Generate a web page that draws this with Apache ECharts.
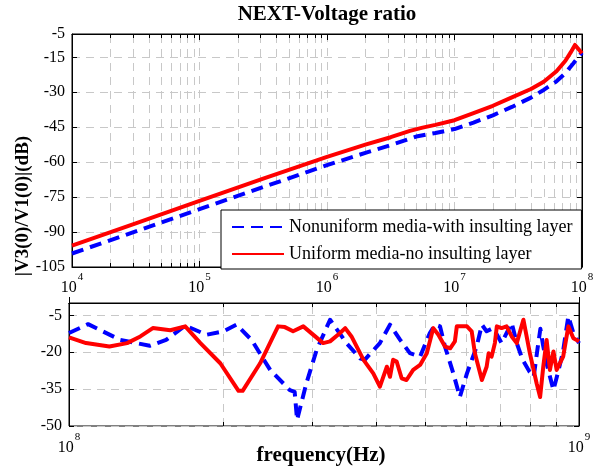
<!DOCTYPE html>
<html><head><meta charset="utf-8">
<script src="https://cdn.jsdelivr.net/npm/echarts@6/dist/echarts.min.js"></script>
<style>html,body{margin:0;padding:0;background:#fff}#c{width:603px;height:470px}</style>
</head><body><div id="c"></div>
<script>
const FONT = '"Liberation Serif","Times New Roman",serif';
const titleText = 'NEXT-Voltage ratio';
const yLabelText = '|V3(0)/V1(0)|(dB)';
const xLabelText = 'frequency(Hz)';
const seriesNames = ['Nonuniform media-with insulting layer', 'Uniform media-no insulting layer'];

// axis ranges / tick steps
const topY = { min: -105, max: -5, interval: 15 };
const botY = { min: -50, max: 0, interval: 15 };
const topX = { min: 1e4, max: 1e8 };
const botX = { min: 1e8, max: 1e9 };

// ---- top panel data ----
const topBlueFreq = [1e4, 3.16e4, 1e5, 3.16e5, 1e6, 2e6, 3.16e6, 5.01e6, 7.08e6, 1e7, 1.41e7, 2e7, 2.82e7, 3.98e7, 5.01e7, 6.31e7, 7.41e7, 8.51e7, 9.33e7, 1e8];
const topBlueVal  = [-99.2, -89.7, -80.2, -70.7, -61.3, -56.0, -52.7, -49.0, -47.5, -45.8, -43.0, -39.9, -36.3, -32.3, -29.0, -25.3, -21.8, -17.8, -15.0, -13.0];
const topRedFreq  = [1e4, 3.16e4, 1e5, 3.16e5, 1e6, 2e6, 3.16e6, 4.47e6, 5.62e6, 7.08e6, 1e7, 1.41e7, 2e7, 2.82e7, 3.98e7, 5.01e7, 6.31e7, 7.41e7, 8.13e7, 8.81e7, 1e8];
const topRedVal   = [-95.8, -86.3, -76.6, -67.1, -57.7, -52.5, -49.3, -46.6, -45.2, -44.0, -42.0, -39.0, -35.8, -32.2, -28.6, -25.5, -21.0, -16.5, -13.0, -9.7, -13.3];

// ---- bottom panel data ----
const botBlueFreq = [1.0e8, 1.09e8, 1.26e8, 1.44e8, 1.55e8, 1.69e8, 1.86e8, 2.01e8, 2.13e8, 2.28e8, 2.48e8, 2.71e8, 2.77e8, 2.80e8, 2.92e8, 3.06e8, 3.25e8, 3.5e8, 3.72e8, 3.8e8, 4.07e8, 4.26e8, 4.46e8, 4.66e8, 4.88e8, 5.1e8, 5.22e8, 5.34e8, 5.46e8, 5.67e8, 5.84e8, 6.03e8, 6.3e8, 6.45e8, 6.59e8, 6.79e8, 7.05e8, 7.38e8, 7.55e8, 7.75e8, 8.0e8, 8.15e8, 8.3e8, 8.4e8, 8.5e8, 8.65e8, 8.91e8, 9.1e8, 9.3e8, 9.53e8, 9.75e8, 1e9];
const botBlueVal  = [-12.2, -8.6, -15, -17.4, -15, -9.2, -12.9, -11.5, -8.8, -15, -27.2, -35.4, -36.1, -47.5, -32.7, -19, -6.8, -16.3, -22.5, -23.1, -16.3, -8.8, -15, -20.4, -21.8, -12.2, -8.8, -9.5, -17.7, -28.6, -38.2, -28.6, -17.7, -8.8, -11.5, -10.2, -16.3, -8.1, -16.3, -23, -28, -30, -18, -10.5, -17, -25, -35.4, -28, -20, -5.4, -12.2, -16.3];
const botRedFreq  = [1.0e8, 1.08e8, 1.2e8, 1.3e8, 1.38e8, 1.46e8, 1.58e8, 1.69e8, 1.81e8, 1.98e8, 2.15e8, 2.19e8, 2.37e8, 2.57e8, 2.65e8, 2.75e8, 2.88e8, 3.15e8, 3.25e8, 3.4e8, 3.48e8, 3.58e8, 3.78e8, 3.95e8, 4.07e8, 4.2e8, 4.26e8, 4.32e8, 4.39e8, 4.49e8, 4.59e8, 4.73e8, 4.88e8, 5.03e8, 5.18e8, 5.3e8, 5.46e8, 5.59e8, 5.71e8, 5.76e8, 6.03e8, 6.16e8, 6.25e8, 6.45e8, 6.59e8, 6.65e8, 6.74e8, 6.84e8, 6.9e8, 7.05e8, 7.21e8, 7.38e8, 7.55e8, 7.78e8, 8.01e8, 8.26e8, 8.39e8, 8.51e8, 8.64e8, 8.77e8, 8.91e8, 9.04e8, 9.31e8, 9.53e8, 9.75e8, 1e9];
const botRedVal   = [-14, -16.3, -17.7, -16.3, -13.6, -10.2, -11.1, -9.5, -16.3, -24.5, -35.7, -35.7, -24.5, -9.5, -9.8, -11.5, -9.5, -16.3, -15.6, -12.2, -10.2, -13.6, -23.1, -28.6, -34, -25.9, -30, -23.1, -23.8, -30.6, -31.3, -27.2, -25.2, -20.4, -10.2, -12.9, -17.7, -18.4, -15.6, -9.5, -9.5, -11.5, -20.4, -31.3, -25.9, -20.4, -21.8, -16.3, -9.5, -10.2, -9.5, -13.6, -16.3, -6.8, -20.4, -32.7, -38.2, -25.9, -15, -27.2, -19.7, -27.2, -21.8, -9.5, -14.3, -15.6];

// minor grid multipliers (log decades)
const minorMult = [2, 3, 4, 5, 6, 7, 8, 9];
const topDecades = [1e4, 1e5, 1e6, 1e7];
const botDecades = [1e8];

function minorList(decades) {
  const out = [];
  decades.forEach(d => minorMult.forEach(m => out.push(m * d)));
  return out;
}
const zip = (a, b) => a.map((x, i) => [x, b[i]]);

const GRID_COLOR = '#c8c8c8';
const DASH = [8, 6];

function minorRenderer(yMin, yMax) {
  return function (params, api) {
    const v = api.value(0);
    const p0 = api.coord([v, yMin]);
    const p1 = api.coord([v, yMax]);
    const x = Math.round(p0[0]) + 0.5;
    return {
      type: 'group', children: [
        { type: 'line', shape: { x1: x, y1: p0[1], x2: x, y2: p1[1] }, style: { stroke: GRID_COLOR, lineWidth: 1, lineDash: DASH } },
        { type: 'line', shape: { x1: x, y1: p0[1], x2: x, y2: p0[1] - 4 }, style: { stroke: '#000', lineWidth: 1 } },
        { type: 'line', shape: { x1: x, y1: p1[1], x2: x, y2: p1[1] + 4 }, style: { stroke: '#000', lineWidth: 1 } }
      ]
    };
  };
}

function expLabel(v) {
  const e = Math.round(Math.log10(v));
  return '{b|10}{s|' + e + '}';
}
const richExp = {
  b: { fontSize: 16, fontFamily: FONT, color: '#000', lineHeight: 24, verticalAlign: 'bottom' },
  s: { fontSize: 11, fontFamily: FONT, color: '#000', lineHeight: 24, verticalAlign: 'top', padding: [0, 0, 0, 1] }
};

function xAxisMain(gridIndex, ext, margin) {
  return {
    type: 'log', logBase: 10, gridIndex, min: ext.min, max: ext.max,
    axisLine: { show: true, lineStyle: { color: '#000', width: 1 } },
    axisTick: { show: true, inside: true, length: 6, lineStyle: { color: '#000' } },
    axisLabel: { formatter: expLabel, rich: richExp, margin: margin },
    splitLine: { show: true, lineStyle: { color: GRID_COLOR, type: DASH } },
    minorTick: { show: false }
  };
}
function xAxisTop(gridIndex, ext) {
  return {
    type: 'log', logBase: 10, gridIndex, min: ext.min, max: ext.max, position: 'top',
    axisLine: { show: true, lineStyle: { color: '#000' } },
    axisTick: { show: true, inside: true, length: 6, lineStyle: { color: '#000' } },
    axisLabel: { show: false }, splitLine: { show: false }
  };
}
function yAxisMain(gridIndex, ext) {
  return {
    type: 'value', gridIndex, min: ext.min, max: ext.max, interval: ext.interval,
    axisLine: { show: true, lineStyle: { color: '#000' } },
    axisTick: { show: true, inside: true, length: 5, lineStyle: { color: '#000' } },
    axisLabel: { color: '#000', fontSize: 16, fontFamily: FONT, margin: 7, showMaxLabel: ext.max === -5 },
    splitLine: { show: true, lineStyle: { color: GRID_COLOR, type: DASH } }
  };
}
function yAxisRight(gridIndex, ext) {
  return {
    type: 'value', gridIndex, min: ext.min, max: ext.max, interval: ext.interval, position: 'right',
    axisLine: { show: true, lineStyle: { color: '#000' } },
    axisTick: { show: true, inside: true, length: 5, lineStyle: { color: '#000' } },
    axisLabel: { show: false }, splitLine: { show: false }
  };
}

const blueStyle = { color: '#0000ff', width: 4, type: [12, 7], cap: 'butt', join: 'round' };
const redStyle = { color: '#ff0000', width: 4, type: 'solid', join: 'round' };

const chart = echarts.init(document.getElementById('c'), null, { renderer: 'canvas' });
chart.setOption({
  backgroundColor: '#fff',
  animation: false,
  grid: [
    { left: 72, right: 21, top: 34, height: 233, show: true, borderColor: '#000', borderWidth: 1, backgroundColor: 'transparent' },
    { left: 69, right: 24, top: 303, height: 123, show: true, borderColor: '#000', borderWidth: 1, backgroundColor: 'transparent' }
  ],
  xAxis: [xAxisMain(0, topX, 5), xAxisMain(1, botX, 6), xAxisTop(0, topX), xAxisTop(1, botX)],
  yAxis: [yAxisMain(0, topY), yAxisMain(1, botY), yAxisRight(0, topY), yAxisRight(1, botY)],
  legend: {
    orient: 'vertical', left: 221, top: 210,
    data: seriesNames,
    itemWidth: 52, itemHeight: 16, itemGap: 9,
    padding: [8, 9, 6, 10],
    itemStyle: { opacity: 0 },
    backgroundColor: '#fff', borderColor: '#000', borderWidth: 1, borderRadius: 0,
    textStyle: { fontSize: 18, fontFamily: FONT, color: '#000', padding: [0, 0, 0, 0] },
    z: 20
  },
  graphic: [
    { type: 'text', x: 327, y: 15, style: { text: titleText, textAlign: 'center', textVerticalAlign: 'middle', font: 'bold 21px ' + FONT, fill: '#000' } },
    { type: 'text', x: 23, y: 206, rotation: Math.PI / 2, style: { text: yLabelText, textAlign: 'center', textVerticalAlign: 'middle', font: 'bold 19px ' + FONT, fill: '#000' } },
    { type: 'text', x: 321, y: 456, style: { text: xLabelText, textAlign: 'center', textVerticalAlign: 'middle', font: 'bold 21px ' + FONT, fill: '#000' } }
  ],
  series: [
    { type: 'custom', xAxisIndex: 0, yAxisIndex: 0, z: 1, silent: true, renderItem: minorRenderer(topY.min, topY.max), data: minorList(topDecades).map(v => [v, topY.min]), encode: { x: 0, y: 1 } },
    { type: 'custom', xAxisIndex: 1, yAxisIndex: 1, z: 1, silent: true, renderItem: minorRenderer(botY.min, botY.max), data: minorList(botDecades).map(v => [v, botY.min]), encode: { x: 0, y: 1 } },
    { name: seriesNames[0], type: 'line', xAxisIndex: 0, yAxisIndex: 0, symbol: 'none', z: 5, lineStyle: blueStyle, itemStyle: { color: '#0000ff' }, data: zip(topBlueFreq, topBlueVal) },
    { name: seriesNames[1], type: 'line', xAxisIndex: 0, yAxisIndex: 0, symbol: 'none', z: 5, lineStyle: redStyle, itemStyle: { color: '#ff0000' }, data: zip(topRedFreq, topRedVal) },
    { name: seriesNames[0], type: 'line', xAxisIndex: 1, yAxisIndex: 1, symbol: 'none', z: 5, lineStyle: blueStyle, itemStyle: { color: '#0000ff' }, data: zip(botBlueFreq, botBlueVal) },
    { name: seriesNames[1], type: 'line', xAxisIndex: 1, yAxisIndex: 1, symbol: 'none', z: 6, lineStyle: redStyle, itemStyle: { color: '#ff0000' }, data: zip(botRedFreq, botRedVal) }
  ]
});
</script></body></html>
